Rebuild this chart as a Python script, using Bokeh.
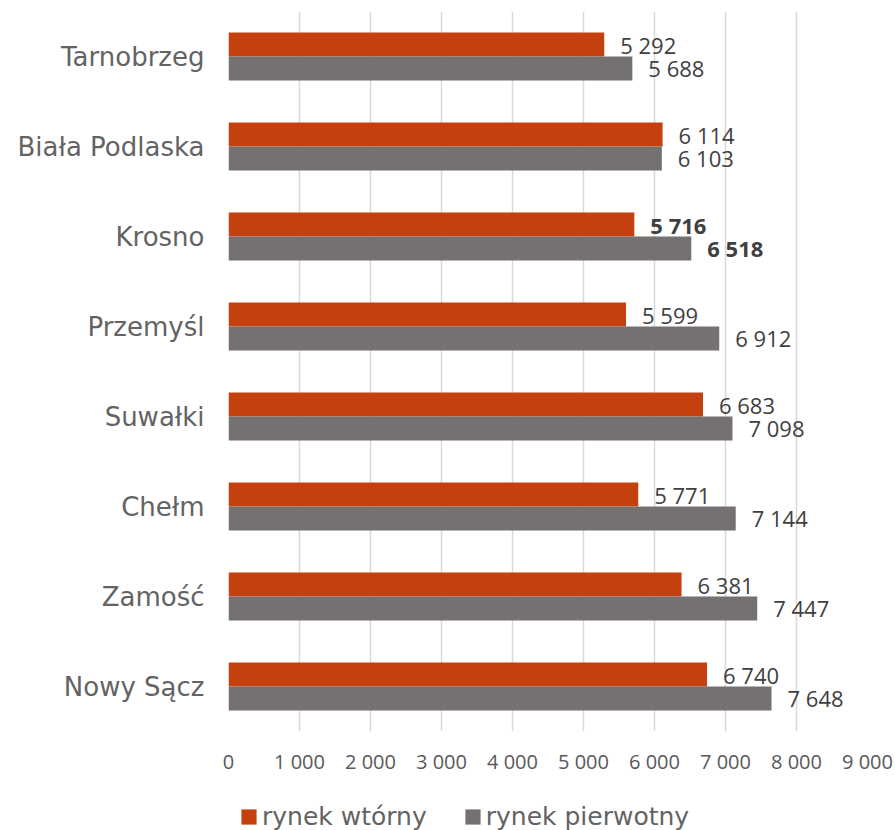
from bokeh.plotting import figure
from bokeh.layouts import column
from bokeh.models import FactorRange, Range1d, FixedTicker, Legend, LegendItem, ColumnDataSource
from bokeh.transform import dodge
from bokeh.core.properties import value, field
from bokeh.embed import file_html
from bokeh.resources import INLINE

# ---- data ----
categories = ["Tarnobrzeg", "Biała Podlaska", "Krosno", "Przemyśl",
              "Suwałki", "Chełm", "Zamość", "Nowy Sącz"]
rynek_wtorny = [5292, 6114, 5716, 5599, 6683, 5771, 6381, 6740]
rynek_pierwotny = [5688, 6103, 6518, 6912, 7098, 7144, 7447, 7648]
bold_category = "Krosno"
series_names = ["rynek wtórny", "rynek pierwotny"]
x_ticks = [0, 1000, 2000, 3000, 4000, 5000, 6000, 7000, 8000, 9000]
x_tick_labels = ["0", "1 000", "2 000", "3 000", "4 000", "5 000",
                 "6 000", "7 000", "8 000", "9 000"]

# ---- styles ----
ORANGE = "#C4410F"
GRAY = "#767171"
GRID = "#D9D9D9"
CAT_FONT = "DejaVu Sans"
NUM_FONT = "Open Sans"


def fmt(v):
    return f"{v:,}".replace(",", " ")


src = ColumnDataSource(dict(
    cat=categories,
    w=rynek_wtorny,
    p=rynek_pierwotny,
    w_lbl=[fmt(v) for v in rynek_wtorny],
    p_lbl=[fmt(v) for v in rynek_pierwotny],
    style=["bold" if c == bold_category else "normal" for c in categories],
))

p = figure(
    width=895, height=795,
    y_range=FactorRange(factors=list(reversed(categories)), range_padding=0),
    x_range=Range1d(0, 9000),
    output_backend="svg", toolbar_location=None,
    min_border_left=228, min_border_right=28, min_border_top=11, min_border_bottom=64,
)
p.outline_line_color = None
p.background_fill_color = "white"
p.border_fill_color = "white"

off = 0.1333
bh = 0.2667
p.hbar(y=dodge("cat", off, range=p.y_range), right="w", left=0, height=bh,
       source=src, fill_color=ORANGE, line_color=None)
p.hbar(y=dodge("cat", -off, range=p.y_range), right="p", left=0, height=bh,
       source=src, fill_color=GRAY, line_color=None)

for col, lbl, o in (("w", "w_lbl", off), ("p", "p_lbl", -off)):
    p.text(x=col, y=dodge("cat", o, range=p.y_range), text=lbl, source=src,
           x_offset=16, text_align="left", text_baseline="middle",
           text_font=value(NUM_FONT), text_font_size=value("22px"),
           text_font_style=field("style"), text_color="#404040")

# grids
p.ygrid.grid_line_color = None
p.xgrid.ticker = FixedTicker(ticks=x_ticks)
p.xgrid.grid_line_color = GRID
p.xgrid.grid_line_width = 1.5

# x axis
xa = p.xaxis[0]
xa.ticker = FixedTicker(ticks=x_ticks)
xa.major_label_overrides = {t: l for t, l in zip(x_ticks, x_tick_labels)}
xa.axis_line_color = None
xa.major_tick_line_color = None
xa.minor_tick_line_color = None
xa.major_tick_out = 0
xa.major_tick_in = 0
xa.minor_tick_out = 0
xa.major_label_standoff = 16
xa.major_label_text_font = NUM_FONT
xa.major_label_text_font_size = "20px"
xa.major_label_text_color = "#595959"

# y axis
ya = p.yaxis[0]
ya.axis_line_color = None
ya.major_tick_line_color = None
ya.minor_tick_line_color = None
ya.major_tick_out = 0
ya.major_tick_in = 0
ya.major_label_standoff = 24
ya.major_label_text_font = CAT_FONT
ya.major_label_text_font_size = "26px"
ya.major_label_text_color = "#636363"

# ---- legend strip below the chart ----
lg = figure(
    width=895, height=35, x_range=Range1d(0, 1),
    y_range=FactorRange(factors=categories),
    output_backend="svg", toolbar_location=None,
    x_axis_location=None, y_axis_location=None, min_border=0,
)
lg.outline_line_color = None
lg.grid.visible = False
lr1 = lg.hbar(y="cat", right="w", height=0.5, source=src,
              fill_color=ORANGE, line_color=None, visible=False)
lr2 = lg.hbar(y="cat", right="p", height=0.5, source=src,
              fill_color=GRAY, line_color=None, visible=False)

legend = Legend(
    items=[LegendItem(label=series_names[0], renderers=[lr1]),
           LegendItem(label=series_names[1], renderers=[lr2])],
    orientation="horizontal",
    location=(11, -1),
    glyph_width=19, glyph_height=19, label_standoff=4, spacing=36,
    padding=0, margin=0,
    border_line_color=None, background_fill_alpha=0,
    inactive_fill_alpha=0,
    label_text_font=CAT_FONT, label_text_font_size="25px",
    label_text_color="#636363",
)
lg.add_layout(legend, "center")

open("out.html", "w").write(file_html(column(p, lg, spacing=0), INLINE))
